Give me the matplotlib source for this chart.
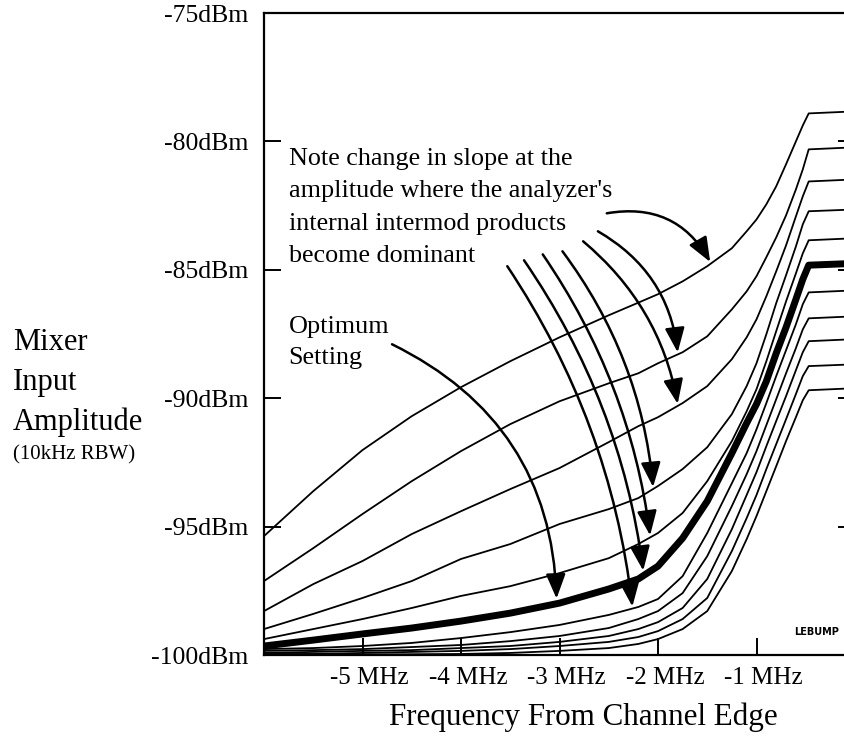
import numpy as np
import matplotlib
matplotlib.use("Agg")
import matplotlib.pyplot as plt
import matplotlib.transforms as mtransforms

plt.rcParams['font.family'] = ['Liberation Serif', 'DejaVu Serif']

# Frequency from channel edge (MHz) and mixer input amplitude (dBm) per trace
freq = [-6, -5.5, -5, -4.5, -4, -3.5, -3, -2.5, -2.2, -2, -1.75, -1.5, -1.25, -1.1, -1,
        -0.9, -0.8, -0.7, -0.6, -0.53, -0.47, 0]

lvl_1 = [-95.37, -93.62, -92.02, -90.70, -89.57, -88.56, -87.63, -86.77, -86.28, -85.95, -85.45,
         -84.86, -84.16, -83.50, -83.04, -82.45, -81.75, -80.89, -80.00, -79.38, -78.91, -78.83]
lvl_2 = [-97.12, -95.84, -94.51, -93.23, -92.06, -91.01, -90.12, -89.42, -89.03, -88.64, -88.21,
         -87.59, -86.54, -85.84, -85.25, -84.51, -83.74, -82.88, -81.87, -81.09, -80.31, -80.23]
lvl_3 = [-98.29, -97.24, -96.34, -95.29, -94.40, -93.54, -92.72, -91.71, -91.09, -90.74, -90.19,
         -89.53, -88.48, -87.63, -86.93, -86.03, -85.06, -84.05, -82.92, -82.14, -81.56, -81.48]
lvl_4 = [-98.99, -98.40, -97.78, -97.12, -96.26, -95.68, -94.90, -94.32, -93.89, -93.42, -92.76,
         -91.91, -90.62, -89.53, -88.64, -87.51, -86.30, -85.21, -84.09, -83.23, -82.72, -82.65]
lvl_5 = [-99.38, -98.99, -98.60, -98.17, -97.70, -97.32, -96.81, -96.23, -95.68, -95.25, -94.47,
         -93.23, -91.67, -90.51, -89.65, -88.56, -87.39, -86.23, -85.14, -84.36, -83.85, -83.77]
lvl_opt = [-99.65, -99.42, -99.18, -98.95, -98.68, -98.37, -97.98, -97.43, -97.04, -96.54, -95.45,
           -94.01, -92.14, -90.97, -90.23, -89.34, -88.25, -87.24, -86.15, -85.37, -84.82, -84.75]
lvl_7 = [-99.77, -99.73, -99.65, -99.53, -99.34, -99.11, -98.83, -98.44, -98.13, -97.82, -96.93,
         -95.25, -93.31, -92.14, -91.21, -90.19, -89.14, -88.13, -87.12, -86.34, -85.88, -85.80]
lvl_8 = [-99.84, -99.81, -99.77, -99.69, -99.61, -99.46, -99.26, -98.95, -98.60, -98.29, -97.59,
         -96.15, -94.20, -92.96, -92.06, -91.05, -90.04, -89.03, -88.05, -87.32, -86.89, -86.81]
lvl_9 = [-99.92, -99.88, -99.84, -99.81, -99.73, -99.65, -99.49, -99.26, -98.99, -98.72, -98.17,
         -97.04, -95.10, -93.77, -92.88, -91.87, -90.89, -89.92, -88.91, -88.21, -87.78, -87.70]
lvl_10 = [-99.96, -99.96, -99.92, -99.88, -99.84, -99.77, -99.65, -99.49, -99.30, -99.07, -98.60,
          -97.78, -95.95, -94.67, -93.77, -92.76, -91.79, -90.82, -89.84, -89.14, -88.75, -88.68]
lvl_11 = [-99.99, -99.98, -99.98, -99.97, -99.96, -99.92, -99.84, -99.73, -99.57, -99.38, -98.99,
          -98.29, -96.73, -95.49, -94.59, -93.62, -92.65, -91.67, -90.74, -90.08, -89.69, -89.61]

curves = [lvl_1, lvl_2, lvl_3, lvl_4, lvl_5, lvl_opt, lvl_7, lvl_8, lvl_9, lvl_10, lvl_11]
OPT = 5

y_ticks = [-100, -95, -90, -85, -80, -75]
x_ticks = [-5, -4, -3, -2, -1]

# arrows: (trace index, x of arrow tip on trace)
note_targets = [(6, -2.26), (5, -2.15), (4, -2.08), (3, -2.05), (2, -1.80), (1, -1.80), (0, -1.47)]
note_tails = [(-3.53, -84.86), (-3.36, -84.63), (-3.17, -84.40), (-2.97, -84.28),
              (-2.76, -83.89), (-2.61, -83.50), (-2.52, -82.80)]
note_rad = [-0.12, -0.12, -0.12, -0.14, -0.18, -0.25, -0.35]

fig = plt.figure(figsize=(8.45, 7.36), dpi=100)
ax = fig.add_axes([264 / 845, 1 - 655 / 736, (855 - 264) / 845, (655 - 13) / 736])
ax.set_xlim(-6, 0)
ax.set_ylim(-100, -75)

for i, lv in enumerate(curves):
    ax.plot(freq, lv, color="black", lw=5 if i == OPT else 1.3,
            solid_joinstyle="round", solid_capstyle="butt")

ax.spines["right"].set_visible(False)
for s in ["left", "bottom", "top"]:
    ax.spines[s].set_linewidth(1.6)

ax.set_yticks(y_ticks)
ax.set_yticklabels([f"{v}dBm" for v in y_ticks])
ax.set_xticks(x_ticks)
ax.set_xticklabels([f"{v} MHz" for v in x_ticks])
ax.tick_params(axis="both", direction="in", length=12, width=1.4)
ax.tick_params(axis="y", right=True, labelsize=18.5, pad=11)
ax.tick_params(axis="x", labelsize=18, pad=9)

# x labels sit a little right of their ticks in the original
shift = mtransforms.ScaledTranslation(7 / 100, 0, fig.dpi_scale_trans)
for lab in ax.get_xticklabels():
    lab.set_transform(lab.get_transform() + shift)

arrow_kw = dict(arrowstyle="-|>,head_length=0.75,head_width=0.3", color="black",
                lw=1.8, shrinkA=0, shrinkB=0, mutation_scale=20)

for (k, hx), tail, rad in zip(note_targets, note_tails, note_rad):
    hy = np.interp(hx, freq, curves[k]) + (0.2 if k == OPT else 0.08)
    ax.annotate("", xy=(hx, hy), xytext=tail,
                arrowprops=dict(connectionstyle=f"arc3,rad={rad}", **arrow_kw))

opt_x = -3.03
ax.annotate("", xy=(opt_x, np.interp(opt_x, freq, lvl_opt) + 0.2), xytext=(-4.70, -87.90),
            arrowprops=dict(connectionstyle="arc3,rad=-0.3", **arrow_kw))

ax.text(-5.75, -80.25, "Note change in slope at the\namplitude where the analyzer's\n"
        "internal intermod products\nbecome dominant",
        fontsize=18.8, ha="left", va="top", linespacing=1.62)
ax.text(-5.75, -86.8, "Optimum\nSetting", fontsize=18.8, ha="left", va="top", linespacing=1.5)

# logo in the corner
ax.text(-0.62, -99.1, "LEBUMP", fontsize=7, fontweight="bold", family="DejaVu Sans",
        ha="left", va="center", clip_on=False)

# y axis title block
for txt, ypx in [("Mixer", 343), ("Input", 383), ("Amplitude", 422)]:
    fig.text(13 / 845, 1 - ypx / 736, txt, fontsize=22, ha="left", va="center")
fig.text(13 / 845, 1 - 455 / 736, "(10kHz RBW)", fontsize=15, ha="left", va="center")

fig.text(583 / 845, 1 - 717 / 736, "Frequency From Channel Edge", fontsize=22.3,
         ha="center", va="center")

fig.savefig("out.png", dpi=100)
